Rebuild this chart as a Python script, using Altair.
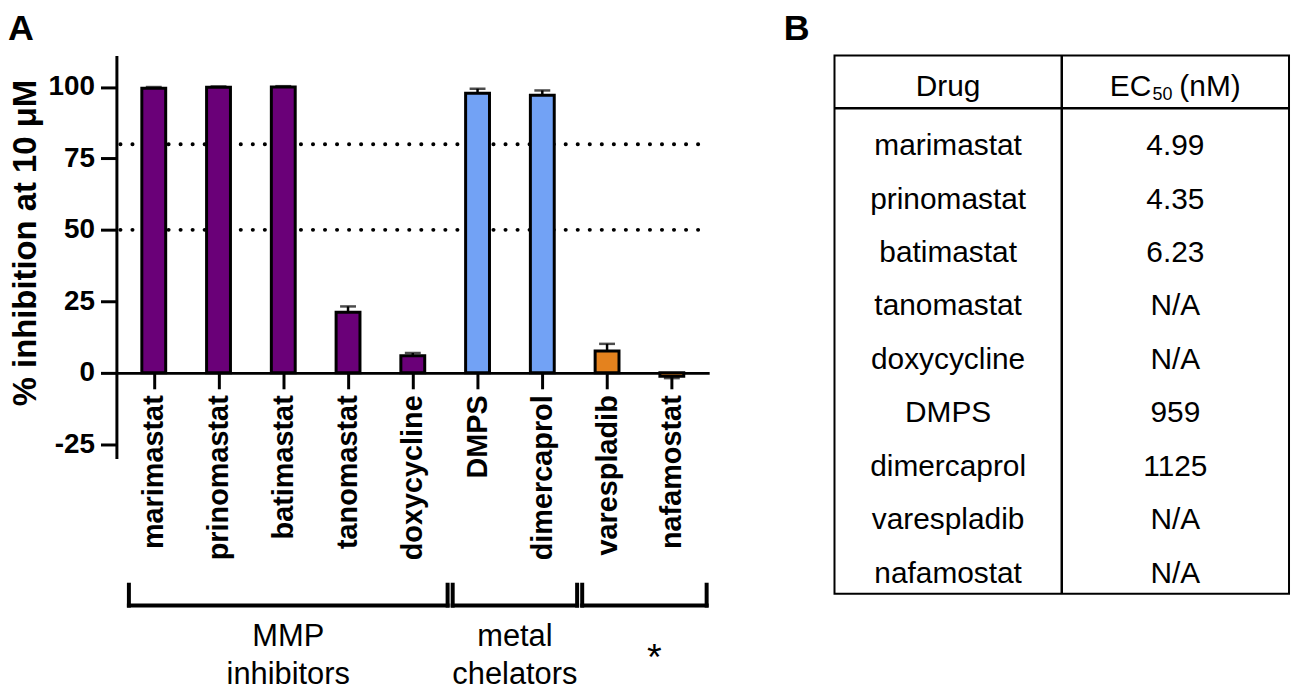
import altair as alt
import pandas as pd

FONT = "Liberation Sans"

# ---------------- data ----------------
drugs = ["marimastat", "prinomastat", "batimastat", "tanomastat", "doxycycline",
         "DMPS", "dimercaprol", "varespladib", "nafamostat"]
inhibition = [99.6, 99.9, 100.0, 21.2, 5.9, 97.8, 97.1, 7.6, -1.2]
error = [0.4, 0.3, 0.3, 2.0, 1.0, 1.6, 1.7, 2.5, 0.7]
drug_class = ["MMP", "MMP", "MMP", "MMP", "MMP", "chelator", "chelator", "other", "other"]
class_colors = {"MMP": "#6A0078", "chelator": "#72A2F5", "other": "#E4821E"}

ref_levels = [50, 80]

group_labels = ["MMP\ninhibitors", "metal\nchelators", "*"]
group_first = [0, 5, 7]
group_last = [4, 6, 8]

ec50 = ["4.99", "4.35", "6.23", "N/A", "N/A", "959", "1125", "N/A", "N/A"]
table_cols = ["Drug", "EC50"]
header_drug = "Drug"
header_ec = ["EC", "50", "(nM)"]   # "EC" + subscript "50" + " (nM)"

# ---------------- tables ----------------
bars_df = pd.DataFrame({
    "pos": list(range(len(drugs))),
    "drug": drugs,
    "inh": inhibition,
    "err": error,
    "color": [class_colors[c] for c in drug_class],
})
bars_df["tip"] = [v + (e if v >= 0 else -e) for v, e in zip(inhibition, error)]

refs_df = pd.DataFrame({"level": ref_levels})

groups_df = pd.DataFrame({
    "label": group_labels,
    "first": group_first,
    "last": group_last,
})
groups_df["mid"] = (groups_df["first"] + groups_df["last"]) / 2

rows = []
for i, (d, e) in enumerate(zip(drugs, ec50)):
    rows.append({"row": i, "col": "Drug", "text": d})
    rows.append({"row": i, "col": "EC50", "text": e})
table_df = pd.DataFrame(rows)

# ---------------- panel A ----------------
W, H = 596, 405
TITLE = "% inhibition at 10 \u03bcM"
yscale = alt.Scale(domain=[-30, 111], nice=False, zero=False)
xscale = alt.Scale(domain=[-0.5, len(drugs) - 0.5], nice=False, zero=False)
label_expr = "[" + ",".join("'%s'" % d for d in drugs) + "][datum.value]"

x_axis = alt.Axis(
    values=list(range(len(drugs))), labelExpr=label_expr, labelAngle=270,
    labelAlign="right", labelBaseline="middle",
    labelFont=FONT, labelFontSize=29, labelFontWeight="bold", labelColor="black",
    labelPadding=6, labelFlush=False, labelOverlap=False,
    tickSize=16, tickWidth=3, tickColor="black",
    domainWidth=3, domainColor="black", grid=False, offset=-86,
)
y_axis = alt.Axis(
    values=[-25, 0, 25, 50, 75, 100],
    labelExpr="datum.value < 0 ? '-' + (-datum.value) : '' + datum.value",
    titleFont=FONT, titleFontSize=33, titleFontWeight="bold", titleColor="black",
    titlePadding=6, titleY=188,
    labelFont=FONT, labelFontSize=28, labelFontWeight="bold", labelColor="black",
    labelPadding=6, labelFlush=False, labelOverlap=False,
    tickSize=16, tickWidth=3, tickColor="black",
    domainWidth=3, domainColor="black", grid=False,
)


def X(field):
    return alt.X(field, type="quantitative", scale=xscale, axis=x_axis, title=None)


def Y(field):
    return alt.Y(field, type="quantitative", scale=yscale, axis=y_axis, title=TITLE)


dots = alt.Chart(refs_df).mark_rule(
    strokeDash=[0.1, 12], strokeCap="round", strokeWidth=4, color="black",
    strokeDashOffset=1,
).encode(y=Y("level"))

bars = alt.Chart(bars_df).mark_bar(size=24, stroke="black", strokeWidth=3).encode(
    x=X("pos"), y=Y("inh"), y2=alt.datum(0), color=alt.Color("color:N", scale=None)
)

err_rule = alt.Chart(bars_df).mark_rule(strokeWidth=2.5, color="black").encode(
    x=X("pos"), y=Y("inh"), y2="tip"
)
err_cap = alt.Chart(bars_df).mark_tick(
    orient="horizontal", size=16, thickness=2.5, color="black"
).encode(x=X("pos"), y=Y("tip"))

br_h = alt.Chart(groups_df).mark_rule(
    strokeWidth=4, color="black", xOffset=-25, x2Offset=35, strokeCap="square"
).encode(x=X("first"), x2="last", y=alt.value(553))
br_l = alt.Chart(groups_df).mark_rule(
    strokeWidth=4, color="black", xOffset=-25, strokeCap="square"
).encode(x=X("first"), y=alt.value(532), y2=alt.value(553))
br_r = alt.Chart(groups_df).mark_rule(
    strokeWidth=4, color="black", xOffset=35, strokeCap="square"
).encode(x=X("last"), y=alt.value(532), y2=alt.value(553))

grp_text = alt.Chart(groups_df).transform_filter("datum.label != '*'").mark_text(
    font=FONT, fontSize=31, lineBreak="\n", lineHeight=38, baseline="alphabetic",
    align="center", dx=5, color="black",
).encode(x=X("mid"), y=alt.value(594), text="label:N")
star_text = alt.Chart(groups_df).transform_filter("datum.label == '*'").mark_text(
    font=FONT, fontSize=38, baseline="alphabetic", align="center", dx=15, color="black",
).encode(x=X("mid"), y=alt.value(618), text="label:N")

label_a = alt.Chart(pd.DataFrame({"t": ["A"]})).mark_text(
    font=FONT, fontSize=36, fontWeight="bold", align="left", baseline="alphabetic",
    color="black",
).encode(x=alt.value(-109), y=alt.value(-16), text="t:N")

left = alt.layer(
    dots, bars, err_rule, err_cap, br_h, br_l, br_r, grp_text, star_text, label_a
).properties(width=W, height=H)

# ---------------- panel B (table) ----------------
TW, TH = 457, 541
tx = alt.X("col:N", scale=alt.Scale(type="point", domain=table_cols, padding=0.5), axis=None)
ty = alt.Y("row:O", scale=alt.Scale(type="point", domain=list(range(len(drugs))),
                                    range=[91, 521], padding=0), axis=None)

body = alt.Chart(table_df).mark_text(
    font=FONT, fontSize=30, color="black", baseline="middle", align="center"
).encode(x=tx, y=ty, text="text:N")

hd = pd.DataFrame({"col": ["Drug"], "text": [header_drug]})
header_drug_t = alt.Chart(hd).mark_text(
    font=FONT, fontSize=30, color="black", baseline="alphabetic", align="center"
).encode(x=tx, y=alt.value(41), text="text:N")

he = pd.DataFrame({"col": ["EC50"] * 3, "text": header_ec})
h_ec = alt.Chart(he).transform_filter(alt.datum.text == header_ec[0]).mark_text(
    font=FONT, fontSize=30, color="black", baseline="alphabetic", align="left", dx=-66
).encode(x=tx, y=alt.value(41), text="text:N")
h_sub = alt.Chart(he).transform_filter(alt.datum.text == header_ec[1]).mark_text(
    font=FONT, fontSize=18, color="black", baseline="alphabetic", align="left", dx=-23
).encode(x=tx, y=alt.value(45), text="text:N")
h_unit = alt.Chart(he).transform_filter(alt.datum.text == header_ec[2]).mark_text(
    font=FONT, fontSize=30, color="black", baseline="alphabetic", align="left", dx=4
).encode(x=tx, y=alt.value(41), text="text:N")

one = pd.DataFrame({"k": [0]})
col_div = alt.Chart(one).mark_rule(strokeWidth=2.5, color="black").encode(
    x=alt.value(TW / 2), y=alt.value(0), y2=alt.value(TH)
)
head_div = alt.Chart(one).mark_rule(strokeWidth=2.5, color="black").encode(
    x=alt.value(0), x2=alt.value(TW), y=alt.value(53)
)
label_b = alt.Chart(pd.DataFrame({"t": ["B"]})).mark_text(
    font=FONT, fontSize=36, fontWeight="bold", align="left", baseline="alphabetic",
    color="black",
).encode(x=alt.value(-51), y=alt.value(-16), text="t:N")

table = alt.layer(
    body, header_drug_t, h_ec, h_sub, h_unit, col_div, head_div, label_b
).properties(
    width=TW, height=TH, view=alt.ViewBackground(stroke="black", strokeWidth=2)
)

chart = alt.hconcat(left, table, spacing=72).properties(padding=0).configure_view(
    strokeWidth=0
)

chart.save("out.html", embed_options={"renderer": "svg", "actions": False})
